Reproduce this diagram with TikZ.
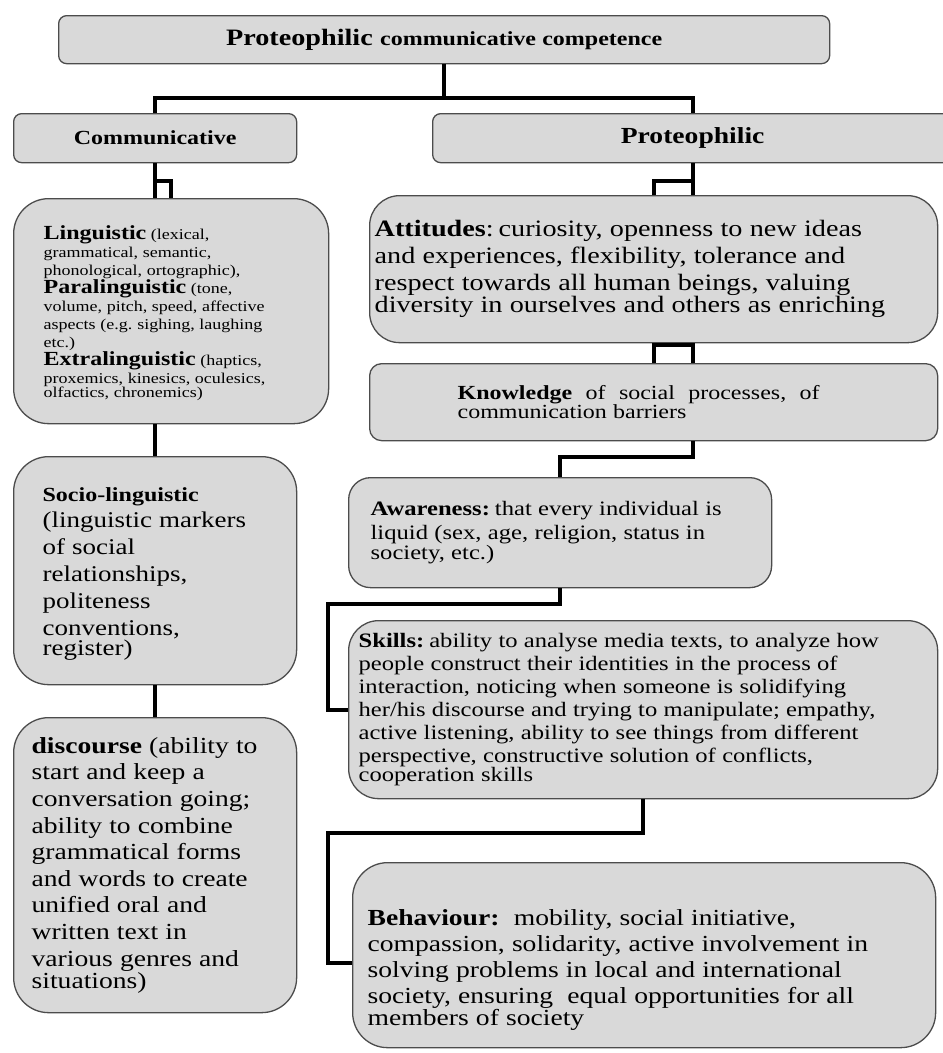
\documentclass[tikz,border=0pt]{standalone}
\usepackage{fontspec}
\setmainfont{Liberation Serif}[FakeStretch=1.2]
\usetikzlibrary{positioning}
\definecolor{boxgray}{gray}{0.85}
\definecolor{rimgray}{gray}{0.3}
\tikzset{
  card/.style = {
    draw=rimgray, fill=boxgray, line width=1.3pt,
    rounded corners=#1, anchor=north west, align=left, inner ysep=0pt
  },
  card/.default = 8pt,
  link/.style = {line width=3.8pt}
}
\newcommand{\fsz}[2]{\fontsize{#1}{#2}\selectfont\spaceskip=0.31em plus 0.1em minus 0.05em\relax}

\begin{document}
\begin{tikzpicture}[x=1pt,y=-1pt]
  \useasboundingbox (0,0) rectangle (943,1053);
  \node[card, minimum width=771pt, minimum height=48pt, align=center] (title) at (58,15)
    {\bfseries\fsz{23.5}{27}Proteophilic \fsz{20}{24}communicative competence};
  \node[card, minimum width=283pt, minimum height=49pt, align=center] (comm) at (13,113)
    {\bfseries\fsz{20}{24}Communicative};
  \node[card, minimum width=520pt, minimum height=49pt, align=center] (proto) at (432,113)
    {\bfseries\fsz{23}{27}Proteophilic};
  \node[card=35pt, minimum width=315pt, minimum height=225pt, inner xsep=30pt, text width=255pt] (ling) at (13,198)
    {\fsz{15}{18}\rule{0pt}{18pt}\textbf{\fsz{20}{18}Linguistic} (lexical,\\ grammatical, semantic,\\ phonological, ortographic),\\
     \textbf{\fsz{20}{18}Paralinguistic} (tone,\\ volume, pitch, speed, affective\\ aspects (e.g. sighing, laughing\\ etc.)\\
     \textbf{\fsz{20}{18}Extralinguistic} (haptics,\\ proxemics, kinesics, oculesics,\\ olfactics, chronemics)};
  \node[card=35pt, minimum width=283pt, minimum height=228pt, inner xsep=29pt, text width=225pt] (socio) at (13,456)
    {\fsz{22.5}{26.8}\rule{0pt}{20pt}\textbf{\fsz{20}{26.8}Socio-linguistic}\\ (linguistic markers\\ of social\\ relationships,\\ politeness\\ conventions,\\ register)};
  \node[card=35pt, minimum width=283pt, minimum height=295pt, inner xsep=18pt, text width=247pt] (disc) at (13,717)
    {\fsz{23}{26.6}\textbf{discourse} (ability to\\ start and keep a\\ conversation going;\\ ability to combine\\ grammatical forms\\ and words to create\\ unified oral and\\ written text in\\ various genres and\\ situations)};
  \node[card=30pt, minimum width=568pt, minimum height=147pt, inner xsep=5pt, text width=558pt] (att) at (369,195)
    {\fsz{23.5}{27}\textbf{Attitudes}: curiosity, openness to new ideas\\ and experiences, flexibility, tolerance and\\ respect towards all human beings, valuing\\ diversity in ourselves and others as enriching};
  \node[card=12pt, minimum width=568pt, minimum height=77pt, inner xsep=88pt, text width=392pt] (know) at (369,363)
    {\fsz{20}{23}\makebox[362pt][l]{\textbf{Knowledge}\hfill of\hfill social\hfill processes,\hfill of}\\ communication barriers};
  \node[card=22pt, minimum width=423pt, minimum height=110pt, inner xsep=22pt, text width=379pt] (aware) at (348,477)
    {\fsz{20.5}{23.5}\textbf{Awareness:} that every individual is\\ liquid (sex, age, religion, status in\\ society, etc.)};
  \node[card=30pt, minimum width=589pt, minimum height=178pt, inner xsep=10pt, text width=569pt] (skills) at (348,620)
    {\fsz{20.5}{23}\textbf{Skills:} ability to analyse media texts, to analyze how\\ people construct their identities in the process of\\
     interaction, noticing when someone is solidifying\\ her/his discourse and trying to manipulate; empathy,\\
     active listening, ability to see things from different\\ perspective, constructive solution of conflicts,\\ cooperation skills};
  \node[card=35pt, minimum width=583pt, minimum height=185pt, inner xsep=15pt, text width=553pt] (behav) at (352,862)
    {\fsz{23}{26}\rule{0pt}{46pt}\textbf{Behaviour:}\ \ mobility, social initiative,\\ compassion, solidarity, active involvement in\\
     solving problems in local and international\\ society, ensuring\ \ equal opportunities for all\\ members of society};
  \draw[link] (title.south) -- ([yshift=-34pt]title.south);
  \draw[link] (comm.north) |- ([yshift=-34pt]title.south) -| (proto.north);
  \draw[link] (comm.south) -- (comm.south |- ling.north);
  \draw[link] ([yshift=-18pt]comm.south) -| (ling.north);
  \draw[link] (proto.south) -- (proto.south |- att.north);
  \draw[link] ([yshift=-18pt]proto.south) -| (att.north);
  \draw[link] (att.south -| proto.south) -- (know.north -| proto.south);
  \draw[link] (know.north) |- ([yshift=-2pt]att.south -| proto.south);
  \draw[link] (know.south -| proto.south) |- ([yshift=20pt]aware.north) -- (aware.north);
  \draw[link] (aware.south) -- ++(0,16) -| ([xshift=-20pt]skills.west) -- (skills.west);
  \draw[link] (skills.south) -- ++(0,34) -| ([xshift=-24pt,yshift=-8pt]behav.west) -- ([yshift=-8pt]behav.west);
  \draw[link] (ling.south -| socio.north) -- (socio.north);
  \draw[link] (socio.south) -- (disc.north);
\end{tikzpicture}
\end{document}
